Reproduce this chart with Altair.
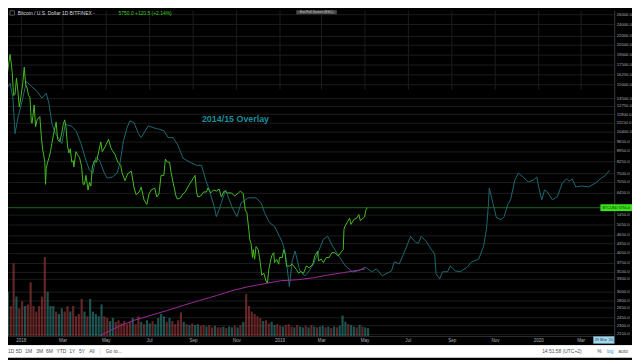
import altair as alt
import pandas as pd

# ---------------- data ----------------
green_dates = [
    "2017-12-11", "2017-12-13", "2017-12-15", "2017-12-17", "2017-12-19", "2017-12-20", "2017-12-22",
    "2017-12-24", "2017-12-26", "2017-12-28", "2017-12-30", "2018-01-01", "2018-01-04", "2018-01-06",
    "2018-01-08", "2018-01-10", "2018-01-12", "2018-01-14", "2018-01-16", "2018-01-17", "2018-01-20",
    "2018-01-22", "2018-01-24", "2018-01-28", "2018-01-30", "2018-02-01", "2018-02-02", "2018-02-04",
    "2018-02-05", "2018-02-06", "2018-02-08", "2018-02-10", "2018-02-12", "2018-02-14", "2018-02-16",
    "2018-02-20", "2018-02-22", "2018-02-25", "2018-02-28", "2018-03-02", "2018-03-04", "2018-03-06",
    "2018-03-08", "2018-03-10", "2018-03-12", "2018-03-14", "2018-03-16", "2018-03-17", "2018-03-20",
    "2018-03-22", "2018-03-25", "2018-03-28", "2018-03-30", "2018-04-01", "2018-04-03", "2018-04-06",
    "2018-04-08", "2018-04-10", "2018-04-12", "2018-04-15", "2018-04-18", "2018-04-21", "2018-04-24",
    "2018-04-26", "2018-04-30", "2018-05-05", "2018-05-08", "2018-05-10", "2018-05-14", "2018-05-18",
    "2018-05-22", "2018-05-24", "2018-05-28", "2018-06-01", "2018-06-06", "2018-06-10", "2018-06-13",
    "2018-06-17", "2018-06-20", "2018-06-24", "2018-06-28", "2018-07-01", "2018-07-04", "2018-07-09",
    "2018-07-12", "2018-07-15", "2018-07-18", "2018-07-22", "2018-07-24", "2018-07-27", "2018-07-30",
    "2018-08-01", "2018-08-04", "2018-08-08", "2018-08-10", "2018-08-14", "2018-08-18", "2018-08-21",
    "2018-08-27", "2018-09-01", "2018-09-04", "2018-09-06", "2018-09-08", "2018-09-12", "2018-09-16",
    "2018-09-20", "2018-09-22", "2018-09-26", "2018-09-30", "2018-10-04", "2018-10-08", "2018-10-11",
    "2018-10-15", "2018-10-20", "2018-10-25", "2018-10-30", "2018-11-04", "2018-11-07", "2018-11-11",
    "2018-11-14", "2018-11-16", "2018-11-19", "2018-11-20", "2018-11-22", "2018-11-24", "2018-11-25",
    "2018-11-27", "2018-11-29", "2018-12-02", "2018-12-05", "2018-12-07", "2018-12-10", "2018-12-13",
    "2018-12-15", "2018-12-17", "2018-12-19", "2018-12-21", "2018-12-24", "2018-12-25", "2018-12-28",
    "2018-12-31", "2019-01-01", "2019-01-05", "2019-01-07", "2019-01-09", "2019-01-11", "2019-01-15",
    "2019-01-19", "2019-01-25", "2019-01-28", "2019-01-31", "2019-02-04", "2019-02-08", "2019-02-12",
    "2019-02-17", "2019-02-20", "2019-02-24", "2019-02-25", "2019-03-01", "2019-03-04", "2019-03-08",
    "2019-03-12", "2019-03-16", "2019-03-20", "2019-03-25", "2019-03-30", "2019-04-01", "2019-04-02",
    "2019-04-03", "2019-04-07", "2019-04-10", "2019-04-12", "2019-04-16", "2019-04-20", "2019-04-23",
    "2019-04-25", "2019-04-29", "2019-05-01", "2019-05-03", "2019-05-05",
]
green_vals = [
    16300, 16200, 17600, 19000, 17500, 16500, 13800,
    13900, 15800, 14300, 12600, 13500, 15200, 17200,
    15000, 14600, 13800, 13600, 11200, 11100, 12800,
    10800, 11400, 11700, 10100, 9000, 8800, 8200,
    6900, 7800, 8200, 8500, 8900, 9500, 10100,
    11200, 9800, 9600, 10300, 11000, 11400, 10700,
    9300, 8800, 9100, 8200, 8300, 7900, 8900,
    8700, 8500, 7900, 6900, 6900, 7400, 6600,
    7000, 6800, 7900, 8300, 8200, 8900, 9600,
    8900, 9250, 9800, 9200, 9000, 8700, 8200,
    8000, 7550, 7100, 7500, 7650, 6700, 6350,
    6500, 6750, 6100, 5900, 6400, 6600, 6700,
    6250, 6400, 7400, 7400, 8400, 8200, 8200,
    7600, 7000, 6300, 6150, 6200, 6400, 6500,
    6900, 7200, 7400, 6500, 6250, 6300, 6500,
    6500, 6700, 6450, 6600, 6550, 6650, 6250,
    6550, 6450, 6450, 6300, 6450, 6550, 6400,
    5600, 5550, 4800, 4500, 4350, 3900, 4150,
    3850, 4250, 4150, 3750, 3400, 3450, 3250,
    3200, 3550, 3750, 3950, 4050, 3750, 3850,
    3700, 3900, 3900, 4150, 4000, 3650, 3650,
    3700, 3550, 3450, 3500, 3450, 3650, 3600,
    3700, 3950, 4100, 3800, 3850, 3750, 3900,
    3900, 4050, 4050, 3950, 4100, 4150, 4850,
    4950, 5150, 5300, 5050, 5250, 5300, 5450,
    5200, 5300, 5350, 5650, 5750,
]

# 2014/15 overlay, days counted from 2018-01-01
teal_days = [
    -19, -15, -11, -8, -4, 1, 3, 8, 15, 23,
    30, 36, 40, 44, 49, 53, 58, 63, 67, 71,
    78, 85, 92, 97, 102, 106, 111, 118, 122, 129,
    136, 140, 145, 150, 154, 160, 166, 170, 180, 187,
    193, 202, 208, 215, 222, 229, 239, 248, 255, 261,
    266, 273, 276, 280, 283, 289, 298, 305, 311, 321,
    332, 339, 344, 351, 358, 365, 369, 373, 376, 379,
    383, 387, 394, 401, 406, 413, 417, 427, 433, 440,
    449, 458, 468, 476, 486, 495, 502, 510, 523, 527,
    534, 540, 550, 557, 561, 565, 572, 579, 584, 586,
    591, 595, 602, 606, 613, 620, 630, 636, 646, 653,
    657, 660, 661, 665, 671, 678, 682, 687, 691, 697,
    702, 709, 716, 723, 728, 731, 735, 739, 743, 750,
    757, 764, 770, 774, 778, 783, 791, 801, 811, 819,
    825, 831,
]
teal_vals = [
    14590, 15160, 13510, 10240, 11580, 12900, 13510, 15390, 14810, 14250,
    13510, 14030, 12900, 11060, 10240, 9930, 9480, 11060, 10890, 10890,
    10480, 9480, 8320, 7700, 7530, 8510, 8320, 7530, 7240, 7300,
    7530, 8130, 9700, 10720, 11320, 11140, 10240, 9930, 10890, 10720,
    10640, 10480, 9930, 9930, 9340, 8450, 8190, 8000, 8000, 7130,
    6600, 5790, 5365, 5660, 5975, 6600, 5790, 5365, 5975, 6210,
    6210, 5975, 5530, 5120, 4970, 4600, 4390, 4070, 3570, 3110,
    3800, 4100, 3500, 3380, 3490, 3710, 3910, 4500, 4600, 4260,
    3940, 3650, 3490, 3515, 3620, 3490, 3570, 3380, 3515, 3770,
    3710, 4005, 4600, 4390, 4360, 4600, 4420, 4160, 4005, 3435,
    3305, 3490, 3490, 3650, 3515, 3490, 3620, 3770, 3850, 4260,
    4855, 5975, 6700, 6115, 5325, 5240, 5365, 5885, 6115, 7130,
    7530, 7300, 7020, 7130, 7300, 6700, 6115, 6600, 6500, 6115,
    6260, 6970, 7190, 7080, 7190, 6760, 6810, 6760, 6970, 7240,
    7410, 7700,
]

# long moving average (magenta), days from 2018-01-01
ma_days = [112, 119, 139, 160, 184, 207, 229, 252, 276, 298, 321, 344, 366, 390, 413, 435, 462, 486]
ma_vals = [2120, 2165, 2285, 2392, 2487, 2584, 2685, 2790, 2898, 3013, 3107, 3180, 3254, 3279, 3330, 3408, 3487, 3568]

# volume (thousand BTC), one bar every 4 days from 2017-12-10; u = up day, d = down day
vol_vals = [
    44, 56, 38, 92, 50, 35, 44, 38, 40, 68,
    38, 31, 38, 50, 100, 56, 38, 38, 31, 28,
    35, 31, 38, 31, 38, 25, 28, 47, 31, 25,
    47, 31, 28, 25, 40, 25, 23, 19, 23, 18,
    20, 16, 19, 15, 18, 23, 15, 25, 18, 15,
    20, 16, 19, 15, 23, 28, 25, 18, 23, 19,
    15, 20, 30, 18, 15, 14, 16, 14, 15, 13,
    14, 12, 14, 11, 13, 11, 11, 12, 10, 12,
    11, 13, 11, 14, 18, 53, 38, 31, 28, 25,
    23, 19, 20, 16, 18, 14, 15, 13, 12, 14,
    15, 12, 11, 14, 12, 11, 13, 11, 14, 12,
    11, 12, 13, 11, 12, 10, 12, 11, 13, 26,
    18, 15, 14, 12, 11, 14, 12, 11, 10,
]
vol_dir = ("uudduddudd" "ddddduuudu" "udduddddud" "uuuuudduud" "ddddduddud"
           "uuduuuudud" "dddududuud" "dudduddudu" "udududdddd" "dudduuddud"
           "dduduududu" "duudududuu" "uduududuu")

price_ticks = [26000, 24000, 22000, 20500, 19000, 17500, 16250, 15000, 13500,
               12750, 11900, 11150, 10400, 9650, 8950, 8250, 7500, 7050, 6450,
               5450, 5050, 4650, 4350, 4050, 3750, 3500, 3300, 3000, 2800,
               2650, 2450, 2300, 2150]
month_ticks = [(2018, 1), (2018, 3), (2018, 5), (2018, 7), (2018, 9), (2018, 11),
               (2019, 1), (2019, 3), (2019, 5), (2019, 7), (2019, 9), (2019, 11),
               (2020, 1), (2020, 3)]

last_price = 5750

# ---------------- tables ----------------
base = pd.Timestamp("2018-01-01")


def day_str(days):
    return [(base + pd.Timedelta(days=d)).strftime("%Y-%m-%d") for d in days]


green_df = pd.DataFrame({"date": green_dates, "val": green_vals})
teal_df = pd.DataFrame({"date": day_str(teal_days), "val": teal_vals})
ma_df = pd.DataFrame({"date": day_str(ma_days), "val": ma_vals})
vol_df = pd.DataFrame({
    "date": pd.date_range("2017-12-10", periods=len(vol_vals), freq="4D").strftime("%Y-%m-%d"),
    "vol": vol_vals,
    "dir": list(vol_dir),
})

# ---------------- style ----------------
W, H = 614, 330
FONT = "Liberation Sans"
GRID = "#1c1c1c"
LBL = "#aeb1b7"
GREEN = "#47bd23"
TEAL = "#1d6a72"
MAGENTA = "#9a2a98"

xscale = alt.Scale(type="utc", domain=[
    alt.DateTime(year=2017, month=12, date=21, hours=1, utc=True),
    alt.DateTime(year=2020, month=4, date=10, hours=7, utc=True)])
xaxis = alt.Axis(
    values=[alt.DateTime(year=y, month=m, date=1, utc=True) for y, m in month_ticks],
    labelExpr="utcFormat(datum.value, '%m') == '01' ? utcFormat(datum.value, '%Y') : utcFormat(datum.value, '%b')",
    grid=True, gridColor=GRID, ticks=False, domain=True, domainColor="#2e2e2e",
    labelColor=LBL, labelFontSize=4.6, labelFont=FONT, labelPadding=2,
    labelOverlap=False, labelFlush=False, title=None)
yscale = alt.Scale(type="log", domain=[2115, 26790], nice=False)
yaxis = alt.Axis(
    values=price_ticks, format=".1f", orient="right", grid=True, gridColor=GRID,
    ticks=False, domain=True, domainColor="#3a3a3a", labelColor=LBL, labelFontSize=4.3,
    labelFont=FONT, labelPadding=2, labelOverlap=False, labelFlush=False, title=None)

X = alt.X("date:T", scale=xscale, axis=xaxis)
Y = alt.Y("val:Q", scale=yscale, axis=yaxis)

vol = alt.Chart(vol_df).mark_bar(size=2.2, opacity=0.62, clip=True).encode(
    x=X,
    y=alt.Y("vol:Q", scale=alt.Scale(domain=[0, 100], range=[H, H - 80]), axis=None),
    color=alt.Color("dir:N", scale=alt.Scale(domain=["u", "d"], range=["#2d8580", "#a03c3c"]), legend=None),
)

rule = alt.Chart(pd.DataFrame({"val": [last_price]})).mark_rule(color="#1f6a1b", strokeWidth=1).encode(y=Y)
teal = alt.Chart(teal_df).mark_line(color=TEAL, strokeWidth=1, clip=True).encode(x=X, y=Y)
ma = alt.Chart(ma_df).mark_line(color=MAGENTA, strokeWidth=1, clip=True).encode(x=X, y=Y)
green = alt.Chart(green_df).mark_line(color=GREEN, strokeWidth=1, clip=True).encode(x=X, y=Y)
overlay = alt.Chart(pd.DataFrame({"date": ["2018-10-31"], "val": [11480], "t": ["2014/15 Overlay"]})).mark_text(
    color="#1e8d98", fontSize=9, fontWeight="bold", font=FONT).encode(x=X, y=Y, text="t:N")

price = alt.layer(rule, teal, ma, green, overlay)


def txt(s, x, y, color, size=5.0, align="left", weight="normal"):
    return alt.Chart(pd.DataFrame({"t": [s]})).mark_text(
        align=align, baseline="middle", color=color, fontSize=size, font=FONT, fontWeight=weight
    ).encode(x=alt.value(x), y=alt.value(y), text="t:N")


def box(x1, x2, y1, y2, fill, stroke=None):
    kw = {"color": fill}
    if stroke:
        kw["stroke"] = stroke
        kw["strokeWidth"] = 0.6
    return alt.Chart(pd.DataFrame({"a": [0]})).mark_rect(**kw).encode(
        x=alt.value(x1), x2=alt.value(x2), y=alt.value(y1), y2=alt.value(y2))


TB = "#4b4e57"
chrome = [
    # header
    box(2, 6.5, 0.5, 5, "#000000", "#8a8d93"),
    txt("Bitcoin / U.S. Dollar  1D  BITFINEX -", 10, 3, "#d6d8dc", 5.0),
    txt("5750.0  +120.5 (+2.14%)", 112, 3, "#3ed01e", 5.0),
    box(292, 333, 0, 4, "#4a4a4a"),
    txt("Exit Full Screen (ESC)", 312.5, 2, "#c9c9c9", 3.4, "center"),
    # last price label
    box(600, 632, 196.5, 203.5, "#3be21c"),
    txt("BTCUSD", 602, 200, "#0c2a05", 3.8),
    txt("5750.0", 618.5, 200, "#0c2a05", 3.8),
    # cursor date label
    box(593, 614, 330.5, 337.5, "#a9d6ea", "#5fa8c8"),
    txt("29 Mar '20", 603.5, 334, "#173646", 4.0, "center"),
    # bottom toolbar
    box(0, 632, 339, 352, "#ffffff"),
    box(0, 632, 339, 339.6, "#d6d6d6"),
    txt("1D", 0, 345.5, TB, 5),
    txt("5D", 11, 345.5, TB, 5, "center"),
    txt("1M", 21, 345.5, TB, 5, "center"),
    txt("3M", 32, 345.5, TB, 5, "center"),
    txt("6M", 42, 345.5, TB, 5, "center"),
    txt("YTD", 54, 345.5, TB, 5, "center"),
    txt("1Y", 65, 345.5, TB, 5, "center"),
    txt("5Y", 75, 345.5, TB, 5, "center"),
    txt("All", 85, 345.5, TB, 5, "center"),
    box(93, 93.6, 341.5, 349.5, "#d0d0d0"),
    txt("Go to...", 99, 345.5, TB, 5),
    txt("14:51:58 (UTC+2)", 561, 345.5, TB, 5, "center"),
    txt("%", 599, 345.5, TB, 5, "center"),
    txt("log", 610, 345.5, "#2f8fe6", 5, "center"),
    txt("auto", 623, 345.5, TB, 5, "center"),
]

chart = alt.layer(vol, price, *chrome).resolve_scale(y="independent").properties(
    width=W, height=H,
    padding={"left": 0, "top": 0, "right": 18, "bottom": 22},
    autosize=alt.AutoSizeParams(type="none"),
    background="#000000",
).configure_view(stroke=None)

chart.save("out.html", embed_options={"renderer": "svg", "actions": False})
